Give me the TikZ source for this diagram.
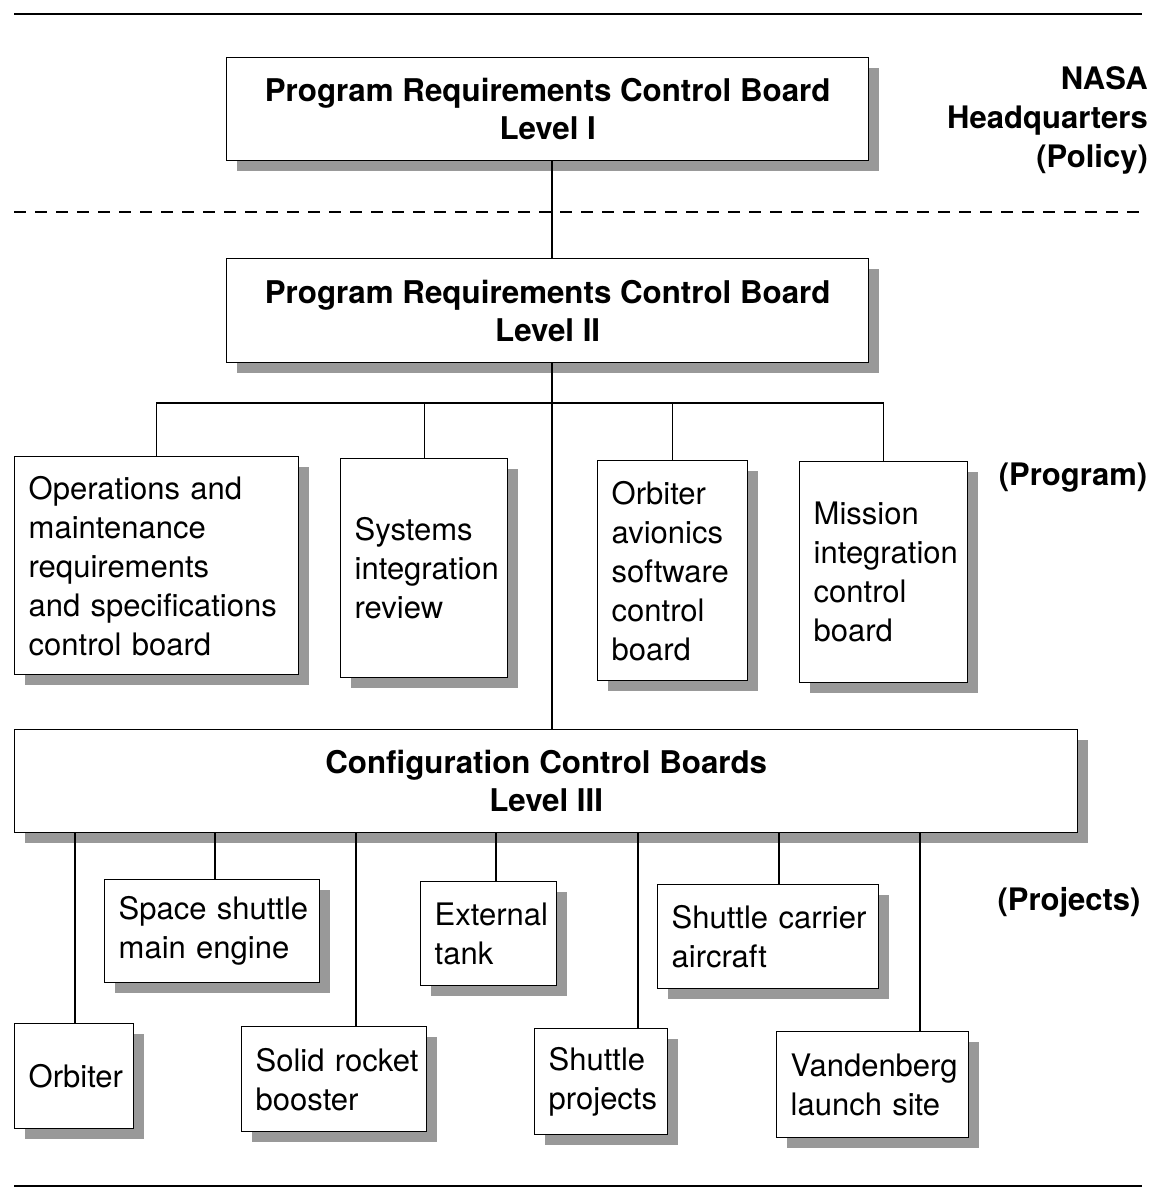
\documentclass[tikz,border=0pt]{standalone}
\usepackage{fontspec}
\setmainfont{TeX Gyre Heros}
\usetikzlibrary{shadows}
\begin{document}
\begin{tikzpicture}[x=1pt,y=-1pt,
  ln/.style={line width=1.3pt, draw=black},
  bx/.style={draw=black, line width=1.4pt, fill=white, anchor=north west,
    inner xsep=14pt, inner ysep=0pt,
    font=\fontsize{31}{39}\selectfont,
    drop shadow={shadow xshift=10pt, shadow yshift=-10pt, fill=black!40, opacity=1}},
  lbox/.style={bx, align=left},
  tbox/.style={bx, align=center, font=\fontsize{31.3}{38}\selectfont\bfseries},
  lbl/.style={font=\fontsize{31}{39}\selectfont\bfseries, inner sep=0pt}
]
\useasboundingbox (0,0) rectangle (1154,1191);
\fill[white] (0,0) rectangle (1154,1191);

% rules
\draw[ln] (14,14) -- (1142,14);
\draw[ln] (14,1186) -- (1142,1186);
\draw[line width=1.2pt, dash pattern=on 12pt off 9pt] (14,212) -- (1146,212);

% coordinates
\coordinate (tk) at (552,0);
\coordinate (bus) at (0,403);
\coordinate (c1) at (75,0);
\coordinate (c2) at (215,0);
\coordinate (c3) at (356,0);
\coordinate (c4) at (496,0);
\coordinate (c5) at (638,0);
\coordinate (c6) at (779,0);
\coordinate (c7) at (920,0);

% boxes
\node[tbox, minimum width=642pt, minimum height=103pt] (l1) at (226,57)
  {Program Requirements Control Board\\Level I};
\node[tbox, minimum width=642pt, minimum height=104pt] (l2) at (226,258)
  {Program Requirements Control Board\\Level II};
\node[tbox, minimum width=1063pt, minimum height=103pt] (l3) at (14,729)
  {Configuration Control Boards\\Level III};

\node[lbox, minimum width=284pt, minimum height=218pt, text width=256pt] (ops) at (14,456)
  {\mbox{Operations and}\\\mbox{maintenance}\\\mbox{requirements}\\\mbox{and specifications}\\\mbox{control board}};
\node[lbox, minimum width=167pt, minimum height=219pt, text width=139pt] (sys) at (340,458)
  {\mbox{Systems}\\\mbox{integration}\\\mbox{review}};
\node[lbox, minimum width=150pt, minimum height=220pt, text width=122pt] (oas) at (597,460)
  {\mbox{Orbiter}\\\mbox{avionics}\\\mbox{software}\\\mbox{control}\\\mbox{board}};
\node[lbox, minimum width=168pt, minimum height=221pt, text width=140pt] (mic) at (799,461)
  {\mbox{Mission}\\\mbox{integration}\\\mbox{control}\\\mbox{board}};

\node[lbox, minimum width=215pt, minimum height=103pt, text width=187pt] (ssme) at (104,879)
  {\mbox{Space shuttle}\\\mbox{main engine}};
\node[lbox, minimum width=136pt, minimum height=104pt, text width=108pt] (et) at (420,881)
  {\mbox{External}\\\mbox{tank}};
\node[lbox, minimum width=221pt, minimum height=104pt, text width=193pt] (sca) at (657,884)
  {\mbox{Shuttle carrier}\\\mbox{aircraft}};

\node[lbox, minimum width=119pt, minimum height=105pt, text width=91pt] (orb) at (14,1023)
  {\mbox{Orbiter}};
\node[lbox, minimum width=185pt, minimum height=105pt, text width=157pt] (srb) at (241,1026)
  {\mbox{Solid rocket}\\\mbox{booster}};
\node[lbox, minimum width=133pt, minimum height=106pt, text width=105pt] (sp) at (534,1028)
  {\mbox{Shuttle}\\\mbox{projects}};
\node[lbox, minimum width=192pt, minimum height=106pt, text width=164pt] (vls) at (776,1031)
  {\mbox{Vandenberg}\\\mbox{launch site}};

% side labels
\node[lbl, anchor=north east, align=right] (hq) at (1148,66) {NASA\\Headquarters\\(Policy)};
\node[lbl] (prog) at (1073,478) {(Program)};
\node[lbl] (proj) at (1069,902) {(Projects)};

% connectors
\draw[ln] (l1.south -| tk) -- (l2.north -| tk);
\draw[ln] (l2.south -| tk) -- (l3.north -| tk);
\draw[ln] (ops.north) -- (ops.north |- bus) -- (mic.north |- bus) -- (mic.north);
\draw[ln] (sys.north) -- (sys.north |- bus);
\draw[ln] (oas.north) -- (oas.north |- bus);

\draw[ln] (l3.south -| c1) -- (orb.north -| c1);
\draw[ln] (l3.south -| c2) -- (ssme.north -| c2);
\draw[ln] (l3.south -| c3) -- (srb.north -| c3);
\draw[ln] (l3.south -| c4) -- (et.north -| c4);
\draw[ln] (l3.south -| c5) -- (sp.north -| c5);
\draw[ln] (l3.south -| c6) -- (sca.north -| c6);
\draw[ln] (l3.south -| c7) -- (vls.north -| c7);
\end{tikzpicture}
\end{document}
